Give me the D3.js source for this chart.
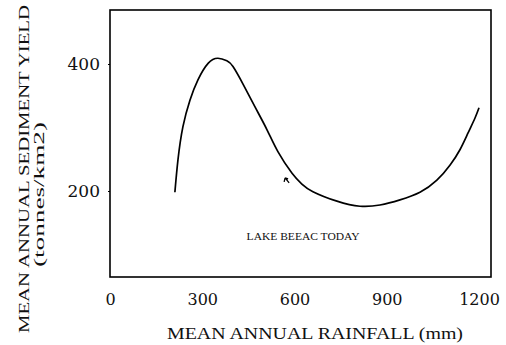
<!DOCTYPE html>
<html>
<head>
<meta charset="utf-8">
<script src="https://cdn.jsdelivr.net/npm/d3@7"></script>
<style>
  body { margin: 0; background: #fff; }
  svg { display: block; }
</style>
</head>
<body>
<svg id="canvas" width="506" height="345"></svg>
<script>
// rainfall (mm) and sediment yield (tonnes/km2)
const rainfall = [211, 221, 237, 260, 286, 319, 351, 380, 400, 433, 472, 511, 546, 592, 624, 660, 738, 813, 878, 943, 1008, 1063, 1106, 1138, 1164, 1187, 1200];
const sedimentYield = [198, 249, 301, 343, 375, 401, 409, 405, 396, 368, 332, 296, 262, 228, 211, 199, 184, 176, 178, 186, 198, 217, 241, 265, 291, 315, 331];

const xTicks = [0, 300, 600, 900, 1200];
const yTicks = [200, 400];

const todayMark = { rain: 576, sed: 216 };
const todayLabel = { rain: 628, sed: 123, text: "LAKE BEEAC TODAY" };

const xTitle = "MEAN ANNUAL RAINFALL  (mm)";
const yTitle = ["MEAN ANNUAL SEDIMENT YIELD", "(tonnes/km2)"];

const svg = d3.select("svg#canvas");
const plotL = 110, plotR = 491, plotT = 10, plotB = 277;

const x = d3.scaleLinear().domain([0, 1239]).range([plotL, plotR]);
const y = d3.scaleLinear().domain([64.6, 485]).range([plotB, plotT]);

const serif = "'DejaVu Serif', 'Liberation Serif', serif";

// frame
svg.append("rect")
  .attr("x", plotL).attr("y", plotT)
  .attr("width", plotR - plotL).attr("height", plotB - plotT)
  .attr("fill", "none").attr("stroke", "#000").attr("stroke-width", 1.6);

// x axis labels
const xAxis = svg.append("g")
  .attr("transform", `translate(0,${plotB})`)
  .call(d3.axisBottom(x).tickValues(xTicks).tickSize(0).tickPadding(17).tickFormat(d3.format("d")));
xAxis.select(".domain").remove();
xAxis.selectAll("text")
  .attr("font-family", serif).attr("font-size", 16).attr("fill", "#111");

// y axis labels
const yAxis = svg.append("g")
  .attr("transform", `translate(${plotL},0)`)
  .call(d3.axisLeft(y).tickValues(yTicks).tickSize(2).tickPadding(8).tickFormat(d3.format("d")));
yAxis.select(".domain").remove();
yAxis.selectAll("line").attr("stroke", "#000").attr("stroke-width", 1.2);
yAxis.selectAll("text")
  .attr("font-family", serif).attr("font-size", 17).attr("fill", "#111");

// curve
const pts = rainfall.map((r, i) => [r, sedimentYield[i]]);
svg.append("path")
  .datum(pts)
  .attr("fill", "none")
  .attr("stroke", "#000")
  .attr("stroke-width", 1.7)
  .attr("d", d3.line().x(d => x(d[0])).y(d => y(d[1])).curve(d3.curveNatural));

// small arrow mark
const mx = x(todayMark.rain), my = y(todayMark.sed);
svg.append("path")
  .attr("d", `M${mx - 2},${my - 3} L${mx + 2},${my + 2} M${mx - 2},${my - 3} L${mx - 3},${my + 1} M${mx - 2},${my - 3} L${mx + 1},${my - 2}`)
  .attr("stroke", "#000").attr("stroke-width", 1.3).attr("fill", "none");

// annotation
svg.append("text")
  .attr("x", x(todayLabel.rain)).attr("y", y(todayLabel.sed))
  .attr("text-anchor", "middle")
  .attr("font-family", "'Liberation Serif', serif")
  .attr("font-size", 10)
  .attr("textLength", 113).attr("lengthAdjust", "spacingAndGlyphs")
  .attr("fill", "#111")
  .text(todayLabel.text);

// axis titles
svg.append("text")
  .attr("x", 167).attr("y", 339)
  .attr("font-family", "'Liberation Serif', serif")
  .attr("font-size", 16)
  .attr("textLength", 296).attr("lengthAdjust", "spacingAndGlyphs")
  .attr("fill", "#111")
  .text(xTitle);

svg.append("text")
  .attr("transform", "translate(29,333) rotate(-90)")
  .attr("font-family", "'Liberation Serif', serif")
  .attr("font-size", 15.5)
  .attr("textLength", 328).attr("lengthAdjust", "spacingAndGlyphs")
  .attr("fill", "#111")
  .text(yTitle[0]);

svg.append("text")
  .attr("transform", "translate(44,267) rotate(-90)")
  .attr("font-family", "'Liberation Serif', serif")
  .attr("font-size", 15.5)
  .attr("textLength", 145).attr("lengthAdjust", "spacingAndGlyphs")
  .attr("fill", "#111")
  .text(yTitle[1]);
</script>
</body>
</html>
